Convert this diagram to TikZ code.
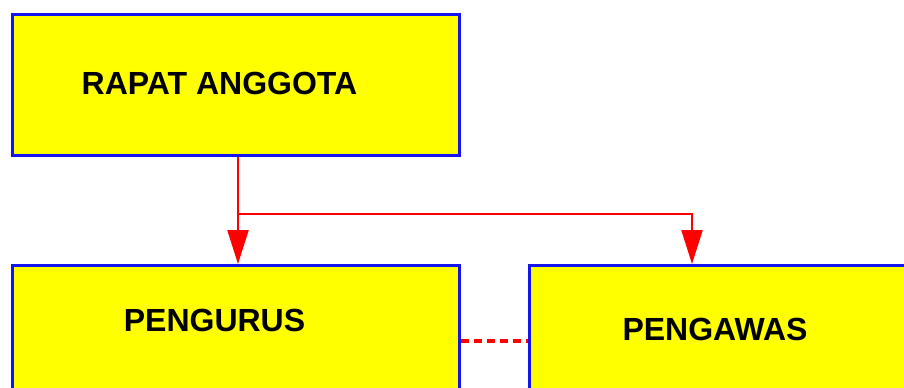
\documentclass[tikz,border=0pt]{standalone}
\usepackage{fontspec}
\setmainfont{Liberation Sans}
\usetikzlibrary{arrows.meta,calc}
\definecolor{boxyellow}{RGB}{255,255,0}
\definecolor{boxblue}{RGB}{20,20,240}
\definecolor{linkred}{RGB}{255,0,0}
\begin{document}
\begin{tikzpicture}[x=1bp,y=-1bp,
  orgbox/.style={draw=boxblue,fill=boxyellow,line width=3bp,inner sep=0pt},
  orgtext/.style={font=\fontsize{32bp}{32bp}\selectfont\bfseries,inner sep=0pt,anchor=center},
  link/.style={draw=linkred,line width=2.2bp},
  arrowlink/.style={link,-{Triangle[length=34bp,width=21bp]}},
  dottedlink/.style={draw=linkred,line width=3.5bp,dash pattern=on 8bp off 5bp}]
\useasboundingbox (0,0) rectangle (904,387);
\clip (0,0) rectangle (904,387);
\fill[white] (0,0) rectangle (904,387);
% boxes
\node[orgbox,minimum width=447bp,minimum height=141bp,anchor=north west] (r) at (11,13) {};
\node[orgbox,minimum width=447bp,minimum height=150bp,anchor=north west] (p) at (11,264) {};
\node[orgbox,minimum width=447bp,minimum height=150bp,anchor=north west] (w) at (528,264) {};
% texts
\node[orgtext] (rt) at (219.5,83) {RAPAT ANGGOTA};
\node[orgtext] (pt) at (214.5,320) {PENGURUS};
\node[orgtext] (wt) at (715,329) {PENGAWAS};
% connectors
\coordinate (j) at (238,214);
\coordinate (wx) at (692,0);
\coordinate (dy) at (0,341);
\coordinate (rs) at (j |- r.south);
\coordinate (wn) at (wx |- w.north);
\draw[arrowlink] (rs) -- (rs |- p.north);
\draw[arrowlink] (j) -| (wn);
\draw[dottedlink] (p.east |- dy) -- (w.west |- dy);
\end{tikzpicture}
\end{document}
